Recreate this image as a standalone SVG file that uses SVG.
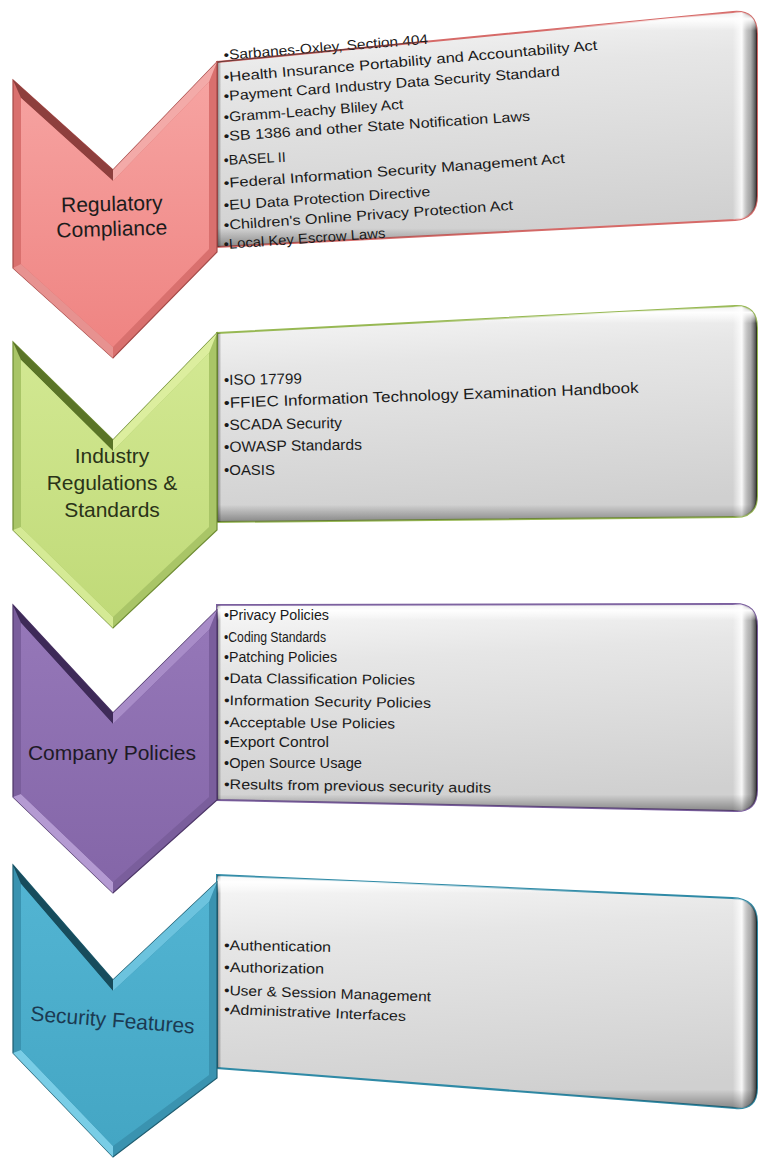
<svg xmlns="http://www.w3.org/2000/svg" width="760" height="1160" viewBox="0 0 760 1160">
  <defs>
    <style>
      .lbl { font-family: "Liberation Sans", Arial, sans-serif; font-size: 21px; text-anchor: middle; }
      .item { font-family: "Liberation Sans", Arial, sans-serif; font-size: 14px; fill: #1a1a1a; }
      .box-base { fill: url(#boxFill); stroke-width: 2; }
      .box-h { fill: url(#boxEdgeH); }
      .box-v { fill: url(#boxEdgeV); }
      .chev-outer { stroke-width: 1.2; }
    </style>
    <!-- panel shading -->
    <linearGradient id="boxFill" x1="0" y1="0" x2="0.15" y2="1">
      <stop offset="0" stop-color="#f8f8f8"/>
      <stop offset="0.3" stop-color="#e6e6e6"/>
      <stop offset="1" stop-color="#d0d0d0"/>
    </linearGradient>
    <linearGradient id="boxEdgeH" x1="0" y1="0" x2="1" y2="0">
      <stop offset="0" stop-color="#000" stop-opacity="0.45"/>
      <stop offset="0.008" stop-color="#000" stop-opacity="0"/>
      <stop offset="0.955" stop-color="#fff" stop-opacity="0"/>
      <stop offset="0.972" stop-color="#fff" stop-opacity="0.85"/>
      <stop offset="0.988" stop-color="#777" stop-opacity="0.5"/>
      <stop offset="1" stop-color="#111" stop-opacity="0.85"/>
    </linearGradient>
    <linearGradient id="boxEdgeV" x1="0" y1="0" x2="0" y2="1">
      <stop offset="0" stop-color="#fff" stop-opacity="0"/>
      <stop offset="0.03" stop-color="#fff" stop-opacity="0.95"/>
      <stop offset="0.08" stop-color="#fff" stop-opacity="0"/>
      <stop offset="0.92" stop-color="#000" stop-opacity="0"/>
      <stop offset="1" stop-color="#000" stop-opacity="0.35"/>
    </linearGradient>
    <!-- chevron fills -->
    <linearGradient id="redFill" x1="0" y1="0" x2="0" y2="1">
      <stop offset="0" stop-color="#f6a3a1"/>
      <stop offset="1" stop-color="#ef8482"/>
    </linearGradient>
    <linearGradient id="greenFill" x1="0" y1="0" x2="0" y2="1">
      <stop offset="0" stop-color="#d2e892"/>
      <stop offset="1" stop-color="#c0da78"/>
    </linearGradient>
    <linearGradient id="purpleFill" x1="0" y1="0" x2="0" y2="1">
      <stop offset="0" stop-color="#9577b8"/>
      <stop offset="1" stop-color="#8466a8"/>
    </linearGradient>
    <linearGradient id="blueFill" x1="0" y1="0" x2="0" y2="1">
      <stop offset="0" stop-color="#52b4d2"/>
      <stop offset="1" stop-color="#44a6c4"/>
    </linearGradient>
  </defs>

  <rect width="760" height="1160" fill="#ffffff"/>

  <!-- Regulatory Compliance -->
  <g id="regulatory-compliance">
    <path class="box-base" stroke="#d66a68" d="M217,62 L733,12 Q757,10 757,34 L757,196 Q757,218 735,220 L217,247 Z"/>
    <path class="box-h" d="M217,62 L733,12 Q757,10 757,34 L757,196 Q757,218 735,220 L217,247 Z"/>
    <path class="box-v" d="M217,62 L733,12 Q757,10 757,34 L757,196 Q757,218 735,220 L217,247 Z"/>
    <text class="item" x="224" y="60" transform="rotate(-4.5 224 60)" textLength="205" lengthAdjust="spacingAndGlyphs">•Sarbanes-Oxley, Section 404</text>
    <line x1="217" y1="62" x2="420" y2="42" stroke="#6b3a39" stroke-width="1.2"/>
    <text class="item" x="224" y="82" transform="rotate(-4.9 224 82)" textLength="375" lengthAdjust="spacingAndGlyphs">•Health Insurance Portability and Accountability Act</text>
    <text class="item" x="224" y="101" transform="rotate(-4.3 224 101)" textLength="337" lengthAdjust="spacingAndGlyphs">•Payment Card Industry Data Security Standard</text>
    <text class="item" x="224" y="122" transform="rotate(-4.2 224 122)" textLength="180" lengthAdjust="spacingAndGlyphs">•Gramm-Leachy Bliley Act</text>
    <text class="item" x="224" y="141" transform="rotate(-3.8 224 141)" textLength="307" lengthAdjust="spacingAndGlyphs">•SB 1386 and other State Notification Laws</text>
    <text class="item" x="224" y="165" transform="rotate(-3 224 165)" textLength="62" lengthAdjust="spacingAndGlyphs">•BASEL II</text>
    <text class="item" x="224" y="188" transform="rotate(-4.2 224 188)" textLength="342" lengthAdjust="spacingAndGlyphs">•Federal Information Security Management Act</text>
    <text class="item" x="224" y="210" transform="rotate(-3.8 224 210)" textLength="207" lengthAdjust="spacingAndGlyphs">•EU Data Protection Directive</text>
    <text class="item" x="224" y="230" transform="rotate(-4 224 230)" textLength="290" lengthAdjust="spacingAndGlyphs">•Children's Online Privacy Protection Act</text>
    <text class="item" x="224" y="249" transform="rotate(-4 224 249)" textLength="162" lengthAdjust="spacingAndGlyphs">•Local Key Escrow Laws</text>

    <polygon class="chev-outer" fill="#d9706e" stroke="#a54a48" points="13,80 113,170 217,62 217,252 113,358 13,268"/>
    <polygon fill="#8e3f3d" points="13,80 113,170 113,181 21,98"/>
    <polygon fill="#f3aaa8" points="113,170 217,62 209,82 113,181"/>
    <polygon fill="#e79290" points="13,268 113,358 113,347 21,264"/>
    <polygon fill="url(#redFill)" points="21,98 113,181 209,82 209,249 113,347 21,264"/>
    <text class="lbl" fill="#1c1c1c" x="112" y="211" transform="rotate(-1.5 112 211)">Regulatory</text>
    <text class="lbl" fill="#1c1c1c" x="112" y="236" transform="rotate(-1.5 112 236)">Compliance</text>
  </g>

  <!-- Industry Regulations & Standards -->
  <g id="industry-regulations">
    <path class="box-base" stroke="#97b853" d="M217,333 L735,306 Q757,305 757,328 L757,496 Q757,517 735,517 L217,522 Z"/>
    <path class="box-h" d="M217,333 L735,306 Q757,305 757,328 L757,496 Q757,517 735,517 L217,522 Z"/>
    <path class="box-v" d="M217,333 L735,306 Q757,305 757,328 L757,496 Q757,517 735,517 L217,522 Z"/>
    <text class="item" style="font-size:15px" x="224" y="385" transform="rotate(-1 224 385)" textLength="78" lengthAdjust="spacingAndGlyphs">•ISO 17799</text>
    <text class="item" style="font-size:15px" x="224" y="408" transform="rotate(-2.1 224 408)" textLength="415" lengthAdjust="spacingAndGlyphs">•FFIEC Information Technology Examination Handbook</text>
    <text class="item" style="font-size:15px" x="224" y="430" transform="rotate(-1 224 430)" textLength="118" lengthAdjust="spacingAndGlyphs">•SCADA Security</text>
    <text class="item" style="font-size:15px" x="224" y="452" transform="rotate(-1 224 452)" textLength="138" lengthAdjust="spacingAndGlyphs">•OWASP Standards</text>
    <text class="item" style="font-size:15px" x="224" y="475" textLength="51" lengthAdjust="spacingAndGlyphs">•OASIS</text>

    <polygon class="chev-outer" fill="#a9c567" stroke="#6f8d34" points="13,342 113,440 217,333 217,530 113,628 13,530"/>
    <polygon fill="#5a7427" points="13,342 113,440 113,451 21,360"/>
    <polygon fill="#dcee9e" points="113,440 217,333 209,353 113,451"/>
    <polygon fill="#d5ea95" points="13,530 113,628 113,617 21,527"/>
    <polygon fill="url(#greenFill)" points="21,360 113,451 209,353 209,527 113,617 21,527"/>
    <text class="lbl" fill="#2a3318" x="112" y="463">Industry</text>
    <text class="lbl" fill="#2a3318" x="112" y="490">Regulations &amp;</text>
    <text class="lbl" fill="#2a3318" x="112" y="517">Standards</text>
  </g>

  <!-- Company Policies -->
  <g id="company-policies">
    <path class="box-base" stroke="#7a5e9e" d="M217,605 L735,604 Q757,604 757,626 L757,790 Q757,812 735,811 L217,800 Z"/>
    <path class="box-h" d="M217,605 L735,604 Q757,604 757,626 L757,790 Q757,812 735,811 L217,800 Z"/>
    <path class="box-v" d="M217,605 L735,604 Q757,604 757,626 L757,790 Q757,812 735,811 L217,800 Z"/>
    <text class="item" x="224" y="620" textLength="105" lengthAdjust="spacingAndGlyphs">•Privacy Policies</text>
    <text class="item" x="224" y="642" textLength="102" lengthAdjust="spacingAndGlyphs">•Coding Standards</text>
    <text class="item" x="224" y="662" textLength="113" lengthAdjust="spacingAndGlyphs">•Patching Policies</text>
    <text class="item" x="224" y="683" transform="rotate(0.5 224 683)" textLength="191" lengthAdjust="spacingAndGlyphs">•Data Classification Policies</text>
    <text class="item" x="224" y="705" transform="rotate(0.8 224 705)" textLength="207" lengthAdjust="spacingAndGlyphs">•Information Security Policies</text>
    <text class="item" x="224" y="727" transform="rotate(0.5 224 727)" textLength="171" lengthAdjust="spacingAndGlyphs">•Acceptable Use Policies</text>
    <text class="item" x="224" y="747" textLength="105" lengthAdjust="spacingAndGlyphs">•Export Control</text>
    <text class="item" x="224" y="768" textLength="138" lengthAdjust="spacingAndGlyphs">•Open Source Usage</text>
    <text class="item" x="224" y="789" transform="rotate(0.8 224 789)" textLength="267" lengthAdjust="spacingAndGlyphs">•Results from previous security audits</text>

    <polygon class="chev-outer" fill="#7a5e9c" stroke="#4d3668" points="13,605 113,713 217,610 217,800 113,893 13,797"/>
    <polygon fill="#3e2a58" points="13,605 113,713 113,724 21,623"/>
    <polygon fill="#a88cc8" points="113,713 217,610 209,630 113,724"/>
    <polygon fill="#b49ad2" points="13,797 113,893 113,882 21,794"/>
    <polygon fill="url(#purpleFill)" points="21,623 113,724 209,630 209,797 113,882 21,794"/>
    <text class="lbl" fill="#1e1a26" x="112" y="760">Company Policies</text>
  </g>

  <!-- Security Features -->
  <g id="security-features">
    <path class="box-base" stroke="#2f8aa6" d="M217,875 L732,898 Q757,899 757,922 L757,1088 Q757,1110 735,1108 L217,1068 Z"/>
    <path class="box-h" d="M217,875 L732,898 Q757,899 757,922 L757,1088 Q757,1110 735,1108 L217,1068 Z"/>
    <path class="box-v" d="M217,875 L732,898 Q757,899 757,922 L757,1088 Q757,1110 735,1108 L217,1068 Z"/>
    <text class="item" x="224" y="950" transform="rotate(1 224 950)" textLength="107" lengthAdjust="spacingAndGlyphs">•Authentication</text>
    <text class="item" x="224" y="972" transform="rotate(1 224 972)" textLength="100" lengthAdjust="spacingAndGlyphs">•Authorization</text>
    <text class="item" x="224" y="995" transform="rotate(1.8 224 995)" textLength="207" lengthAdjust="spacingAndGlyphs">•User &amp; Session Management</text>
    <text class="item" x="224" y="1014" transform="rotate(2.2 224 1014)" textLength="182" lengthAdjust="spacingAndGlyphs">•Administrative Interfaces</text>

    <polygon class="chev-outer" fill="#3a93b0" stroke="#1f5d70" points="13,865 113,980 217,882 217,1078 113,1157 13,1053"/>
    <polygon fill="#174c5c" points="13,865 113,980 113,991 21,884"/>
    <polygon fill="#6cc3de" points="113,980 217,882 209,902 113,991"/>
    <polygon fill="#79cde6" points="13,1053 113,1157 113,1146 21,1050"/>
    <polygon fill="url(#blueFill)" points="21,884 113,991 209,902 209,1075 113,1146 21,1050"/>
    <text class="lbl" fill="#1b3a52" x="112" y="1027" transform="rotate(4.5 112 1027)">Security Features</text>
  </g>
</svg>
